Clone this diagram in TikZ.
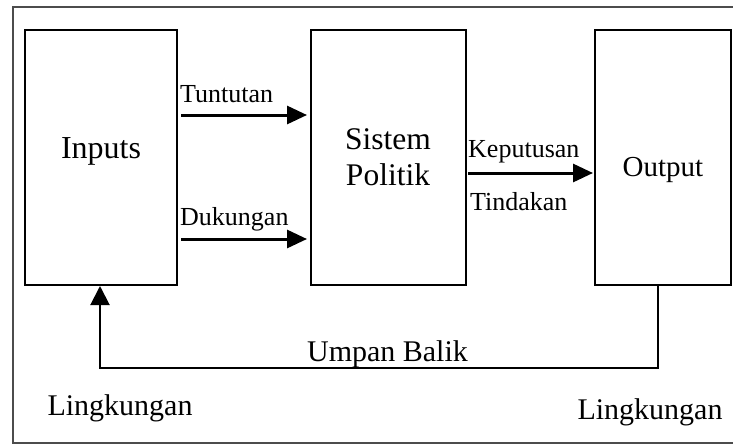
\documentclass[tikz,border=0pt]{standalone}
\usepackage{fontspec}
\setmainfont{Liberation Serif}
\usetikzlibrary{arrows.meta,calc}

\begin{document}
\begin{tikzpicture}[x=1pt,y=-1pt,
  blockbox/.style={draw=black,line width=2pt,minimum width=#1,minimum height=255pt,inner sep=0pt},
  bigtext/.style={font=\fontsize{31.5}{36}\selectfont,align=center,inner sep=0pt},
  flowlabel/.style={font=\fontsize{26}{30}\selectfont,inner sep=0pt,anchor=base west},
  envlabel/.style={font=\fontsize{30}{34}\selectfont,inner sep=0pt,anchor=base},
  flowarrow/.style={line width=3pt,-{Triangle[length=20pt,width=18pt]}},
  fbline/.style={line width=2pt},
  fbarrow/.style={line width=2pt,-{Triangle[length=19pt,width=19pt]}}]

  \useasboundingbox (0,0) rectangle (733,445);
  \clip (0,0) rectangle (733,445);

  % surrounding environment frame
  \draw[line width=1.5pt,draw=black!70] (13,7) rectangle (740,443);

  % the three blocks
  \node[blockbox=152pt] (inbox)  at (101,157.5) {};
  \node[blockbox=155pt] (polbox) at (388.5,157.5) {};
  \node[blockbox=136pt] (outbox) at (663,157.5) {};

  % block titles
  \node[bigtext,font=\fontsize{32}{36}\selectfont,anchor=base] (intext) at (101,158) {Inputs};
  \node[bigtext,anchor=base] (sistext) at (388,149) {Sistem};
  \node[bigtext,anchor=base] (poltext) at (388,185) {Politik};
  \node[bigtext,font=\fontsize{29}{34}\selectfont,anchor=base] (outtext) at (663,176) {Output};

  % flow labels
  \node[flowlabel] (tuntutan)  at (180,102) {Tuntutan};
  \node[flowlabel] (dukungan)  at (180,225) {Dukungan};
  \node[flowlabel] (keputusan) at (468,157) {Keputusan};
  \node[flowlabel] (tindakan)  at (470,210) {Tindakan};

  % forward arrows
  \coordinate (ytun) at (0,115);
  \coordinate (yduk) at (0,239);
  \coordinate (ykep) at (0,173);
  \draw[flowarrow,shorten <=3pt,shorten >=3pt] (inbox.east |- ytun) -- (polbox.west |- ytun);
  \draw[flowarrow,shorten <=3pt,shorten >=3pt] (inbox.east |- yduk) -- (polbox.west |- yduk);
  \draw[flowarrow,shorten <=1pt,shorten >=1pt] (polbox.east |- ykep) -- (outbox.west |- ykep);

  % feedback loop
  \coordinate (fbR) at (658,368);
  \coordinate (fbL) at (100,368);
  \draw[fbarrow] (outbox.south -| fbR) -- (fbR) -- (fbL) -- (inbox.south -| fbL);
  \node[envlabel] (umpan) at (387.5,361) {Umpan Balik};

  % environment labels
  \node[envlabel] (lingL) at (120,415) {Lingkungan};
  \node[envlabel] (lingR) at (650,419) {Lingkungan};
\end{tikzpicture}
\end{document}
